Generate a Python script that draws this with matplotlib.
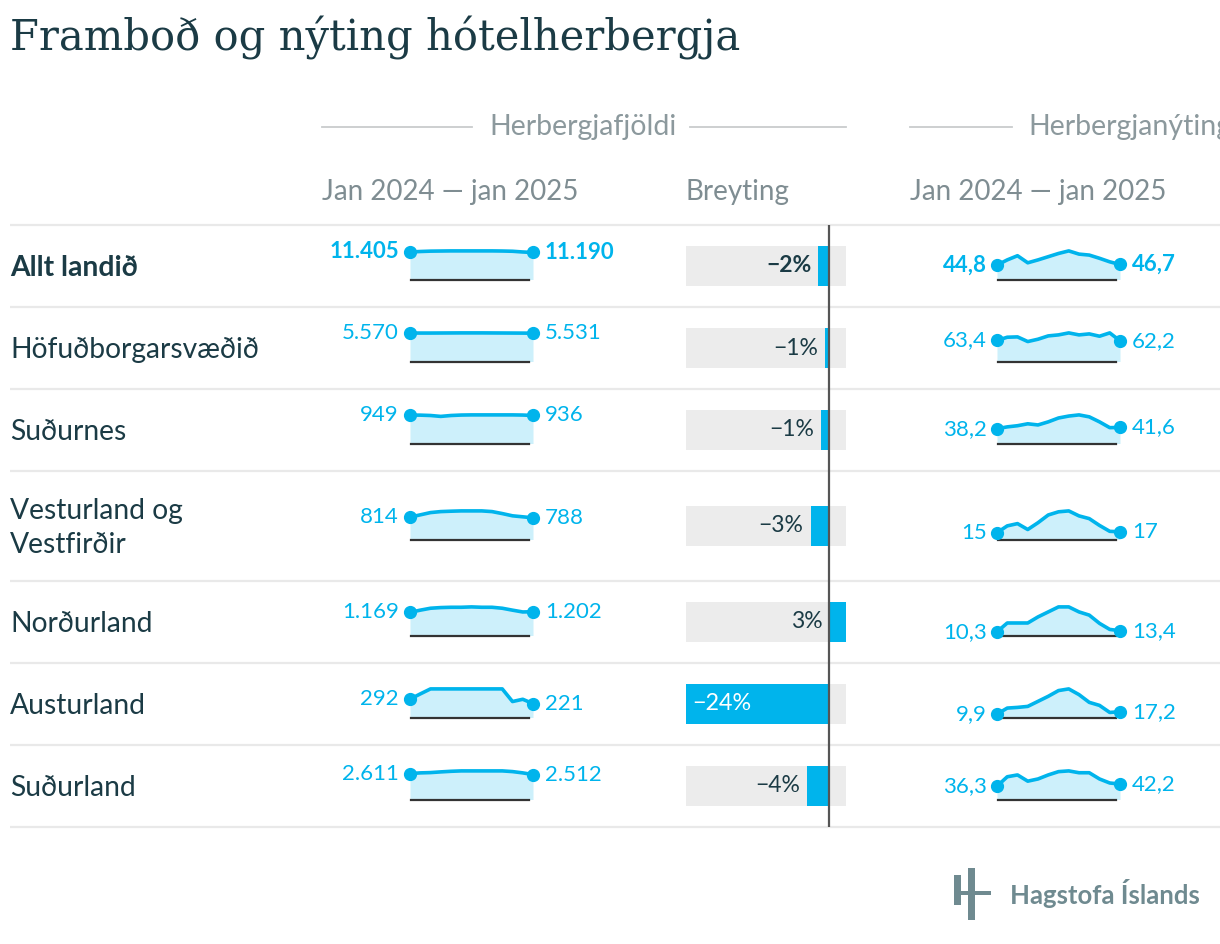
import matplotlib
matplotlib.use("Agg")
import matplotlib.pyplot as plt
from matplotlib.patches import Rectangle
import numpy as np

# ---------------- data ----------------
regions = ["Allt landið", "Höfuðborgarsvæðið", "Suðurnes", "Vesturland og\nVestfirðir",
           "Norðurland", "Austurland", "Suðurland"]
months = ["jan 2024", "feb", "mar", "apr", "maí", "jún", "júl", "ágú", "sep", "okt", "nóv", "des", "jan 2025"]

rooms_allt = [11405, 11600, 11750, 11800, 11850, 11850, 11850, 11850, 11850, 11800, 11700, 11400, 11190]
rooms_hofud = [5570, 5560, 5560, 5570, 5580, 5590, 5590, 5590, 5580, 5570, 5560, 5550, 5531]
rooms_sudurnes = [949, 947, 935, 905, 935, 950, 955, 955, 955, 955, 955, 950, 936]
rooms_vestur = [814, 897, 980, 1016, 1030, 1041, 1041, 1041, 1016, 944, 862, 826, 788]
rooms_nordur = [1169, 1281, 1378, 1412, 1427, 1427, 1446, 1427, 1427, 1378, 1281, 1190, 1202]
rooms_austur = [292, 375, 455, 455, 455, 455, 455, 455, 455, 455, 254, 290, 221]
rooms_sudur = [2611, 2680, 2710, 2780, 2840, 2880, 2880, 2880, 2880, 2880, 2810, 2680, 2512]

occ_allt = [44.8, 61, 74, 52, 61, 71, 81, 89, 79, 76, 66, 55, 46.7]
occ_hofud = [63.4, 73, 74, 60, 67, 77, 80, 86, 80, 83, 76, 86, 62.2]
occ_sudurnes = [38.2, 43, 46, 51, 48, 56, 66, 71, 74, 69, 56, 41, 41.6]
occ_vestur = [15.0, 30, 35, 22, 37, 54, 61, 63, 52, 46, 31, 18, 17.0]
occ_nordur = [10.3, 35, 35, 35, 52, 66, 80, 80, 66, 57, 34, 17, 13.4]
occ_austur = [9.9, 28, 30, 33, 48, 63, 80, 85, 68, 45, 36, 15, 17.2]
occ_sudur = [36.3, 62, 67, 50, 56, 67, 76, 78, 73, 73, 56, 45, 42.2]

rooms = [rooms_allt, rooms_hofud, rooms_sudurnes, rooms_vestur, rooms_nordur, rooms_austur, rooms_sudur]
occ = [occ_allt, occ_hofud, occ_sudurnes, occ_vestur, occ_nordur, occ_austur, occ_sudur]

title = "Framboð og nýting hótelherbergja"
group1 = "Herbergjafjöldi"
group2 = "Herbergjanýting"
period_label = "Jan 2024 — jan 2025"
change_label = "Breyting"
source = "Hagstofa Íslands"

# ---------------- style ----------------
W, H = 1220, 944
DARK = "#1b3b45"
GREY = "#7f8d92"
BLUE = "#00b4ec"
FILL = "#cdf0fb"
SEP = "#e9e9e9"
BARBG = "#ececec"
FONT = "Lato"

fig = plt.figure(figsize=(W / 100, H / 100), dpi=100)
fig.patch.set_facecolor("white")


def px_axes(x0, y0, w, h):
    return fig.add_axes([x0 / W, 1 - (y0 + h) / H, w / W, h / H])


bg = px_axes(0, 0, W, H)
bg.set_xlim(0, W)
bg.set_ylim(H, 0)
bg.axis("off")


def ftext(x, y, s, **kw):
    kw.setdefault("family", FONT)
    kw.setdefault("va", "center")
    bg.text(x, y, s, **kw)


# title
ftext(10, 38, title, family="DejaVu Serif", fontsize=30, color=DARK)

# group headers
ftext(583, 127, group1, ha="center", fontsize=20.5, color="#8c999d")
bg.plot([322, 472], [127, 127], color="#c9cccd", lw=1.3)
bg.plot([690, 846], [127, 127], color="#c9cccd", lw=1.3)
ftext(1028, 127, group2, ha="left", fontsize=20.5, color="#8c999d")
bg.plot([910, 1012], [127, 127], color="#c9cccd", lw=1.3)

ftext(322, 192, period_label, fontsize=20, color=GREY)
ftext(686, 192, change_label, fontsize=20, color=GREY)
ftext(910, 192, period_label, fontsize=20, color=GREY)

# rows layout
row_tops = [225, 307, 389, 471, 581, 663, 745]
row_h = [82, 82, 82, 110, 82, 82, 82]
bottom = row_tops[-1] + row_h[-1]
for t in row_tops + [bottom]:
    bg.plot([10, W], [t, t], color=SEP, lw=1.6, solid_capstyle="butt")

changes = [(r[-1] - r[0]) / r[0] * 100 for r in rooms]
cmin, cmax = min(changes), max(changes)


def fmt_int(v):
    return f"{v:,}".replace(",", ".")


def fmt_dec(v):
    if float(v).is_integer():
        return str(int(v))
    return f"{v:.1f}".replace(".", ",")


def spark(x0, base, vals, labfmt, bold, loff, roff):
    ax = px_axes(x0, base - 28.6, 123, 28.6)
    ax.axis("off")
    x = np.arange(len(vals))
    ax.set_xlim(0, len(vals) - 1)
    ax.set_ylim(0, max(vals))
    ax.fill_between(x, vals, 0, color=FILL, lw=0, clip_on=False)
    ax.axhline(0, xmin=0.005, xmax=0.965, color="#333333", lw=1.6, clip_on=False, zorder=3)
    ax.plot(x, vals, color=BLUE, lw=2.6, clip_on=False, solid_joinstyle="round",
            solid_capstyle="round", zorder=4)
    ax.plot([x[0], x[-1]], [vals[0], vals[-1]], "o", color=BLUE, ms=8.5, clip_on=False, zorder=5)
    w = "bold" if bold else "normal"
    ax.annotate(labfmt(vals[0]), (x[0], vals[0]), xytext=(loff, 0), textcoords="offset points",
                ha="right", va="center", color=BLUE, fontsize=16, family=FONT, weight=w,
                annotation_clip=False)
    ax.annotate(labfmt(vals[-1]), (x[-1], vals[-1]), xytext=(roff, 0), textcoords="offset points",
                ha="left", va="center", color=BLUE, fontsize=16, family=FONT, weight=w,
                annotation_clip=False)


for i, name in enumerate(regions):
    top, h = row_tops[i], row_h[i]
    c = top + h / 2
    bold = i == 0
    w = "bold" if bold else "normal"
    ftext(10, c + 2, name, fontsize=20.3, color=DARK, weight=w, linespacing=1.4)
    base = c + 13.5
    spark(410, base, rooms[i], fmt_int, bold, -8, 8.5)
    spark(997, base, occ[i], fmt_dec, bold, -7.5, 8.5)

    # change bar
    bax = px_axes(686, c - 20, 160, 40)
    bax.set_xlim(cmin, cmax)
    bax.set_ylim(-0.5, 0.5)
    bax.set_facecolor(BARBG)
    for s in bax.spines.values():
        s.set_visible(False)
    bax.set_xticks([])
    bax.set_yticks([])
    ch = changes[i]
    bax.barh(0, ch, height=1, color=BLUE, lw=0)
    lab = f"{round(ch):d}%".replace("-", "\u2212")
    frac = (min(ch, 0) - cmin) / (cmax - cmin)
    if frac < 0.3:
        bax.annotate(lab, (ch, 0), xytext=(4.5, 0), textcoords="offset points", ha="left",
                     va="center", color="white", fontsize=16.8, family=FONT, weight=w)
    else:
        bax.annotate(lab, (min(ch, 0), 0), xytext=(-5, 0), textcoords="offset points", ha="right",
                     va="center", color=DARK, fontsize=16.5, family=FONT, weight=w)

# zero line
zax = px_axes(686, row_tops[0], 160, bottom - row_tops[0])
zax.set_xlim(cmin, cmax)
zax.axis("off")
zax.axvline(0, color="#555555", lw=1.6)

# logo
lax = px_axes(950, 866, 45, 55)
lax.set_xlim(0, 45)
lax.set_ylim(55, 0)
lax.axis("off")
LOGO = "#6f8a90"
lax.add_patch(Rectangle((4, 9), 7, 16, color=LOGO, lw=0))
lax.add_patch(Rectangle((18, 2), 7, 52, color=LOGO, lw=0))
lax.add_patch(Rectangle((4, 25), 37, 3.5, color=LOGO, lw=0))
lax.add_patch(Rectangle((4, 28.5), 7, 10, color=LOGO, lw=0))
ftext(1010, 893, source, fontsize=18.5, color=LOGO, weight="bold")

fig.savefig("out.png", dpi=100, facecolor="white")
